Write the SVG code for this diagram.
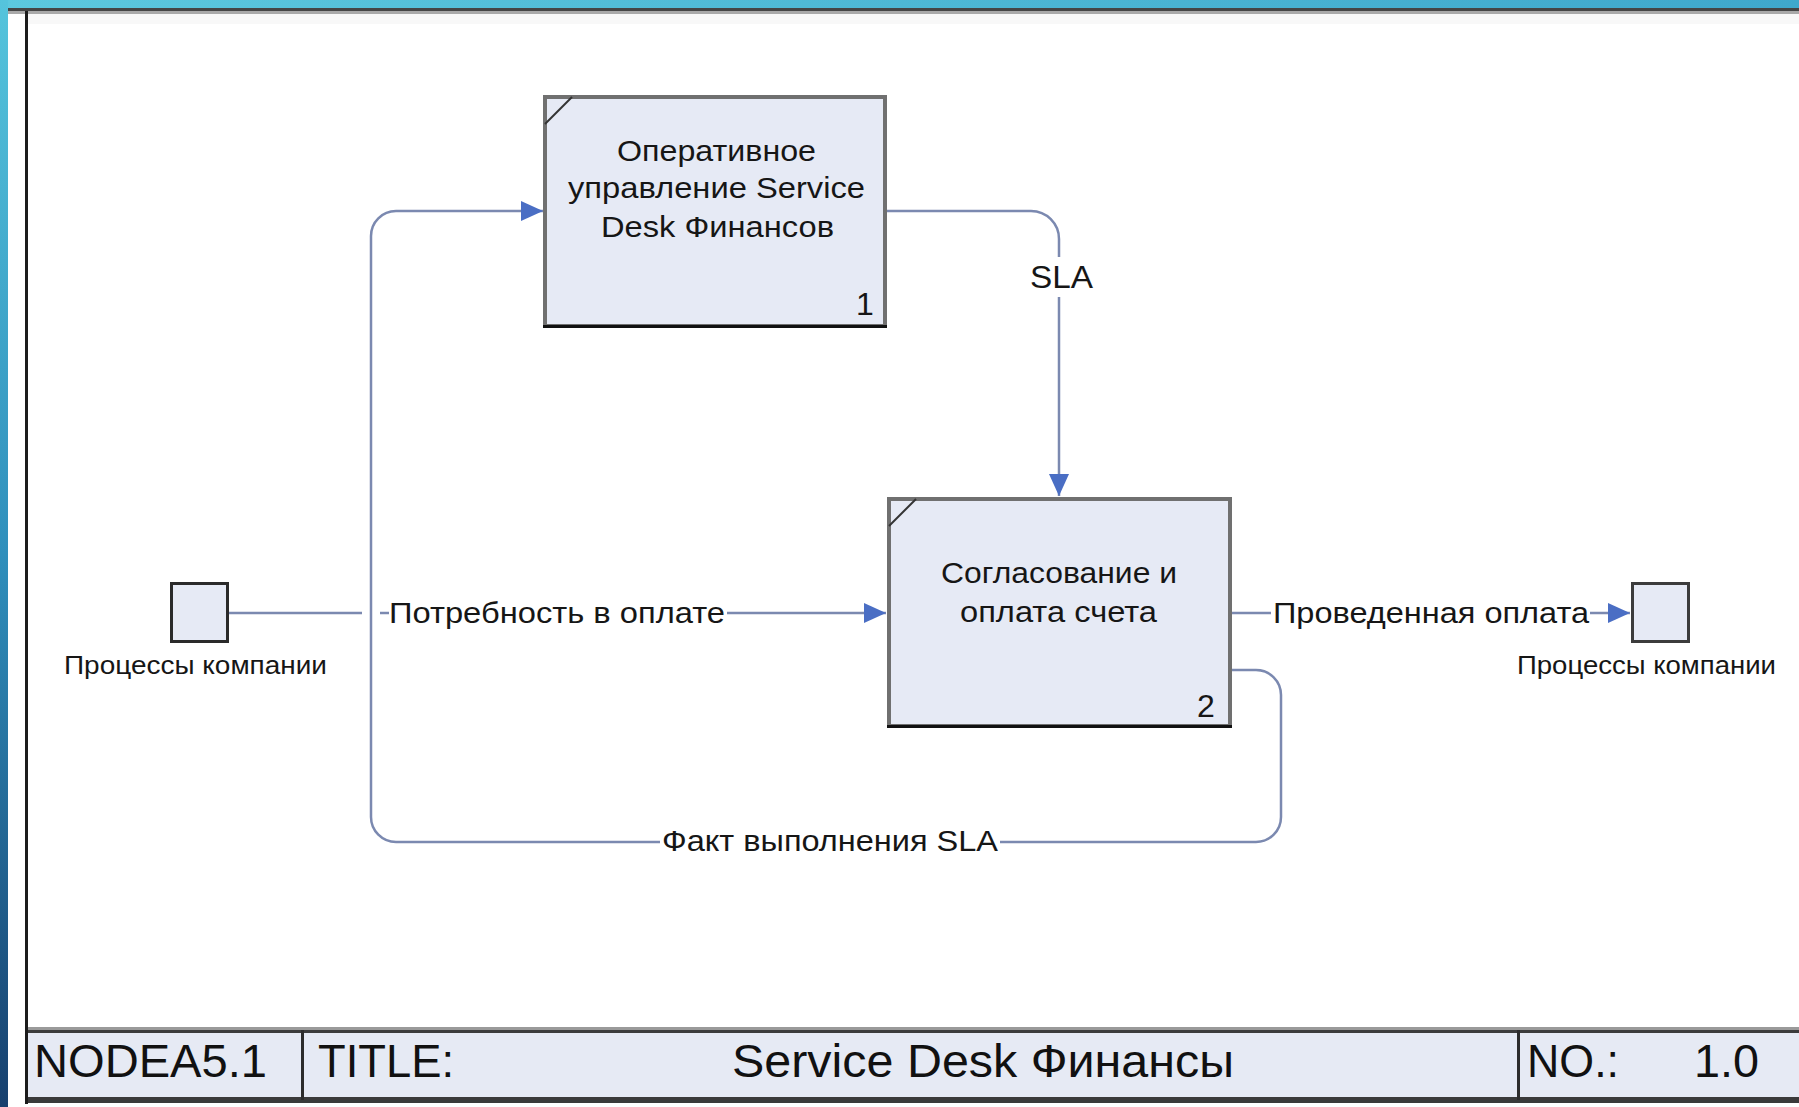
<svg xmlns="http://www.w3.org/2000/svg" width="1799" height="1107" viewBox="0 0 1799 1107">
<defs>
<linearGradient id="gTop" x1="0" y1="0" x2="1" y2="0"><stop offset="0" stop-color="#5cc8de"/><stop offset="1" stop-color="#3fa8cc"/></linearGradient>
<linearGradient id="gLeft" x1="0" y1="0" x2="0" y2="1"><stop offset="0" stop-color="#55c4dc"/><stop offset="0.5" stop-color="#2f8fbc"/><stop offset="1" stop-color="#17406e"/></linearGradient>
<marker id="arr" viewBox="0 0 22 20" refX="22" refY="10" markerWidth="22" markerHeight="20" markerUnits="userSpaceOnUse" orient="auto"><path d="M0,0 L22,10 L0,20 Z" fill="#4a6ec4"/></marker>
<style>
.t{font-family:"Liberation Sans",Arial,sans-serif;fill:#161616}
.box{fill:#e6eaf5;stroke:#707070;stroke-width:4}
.bot{stroke:#111;stroke-width:3}
.diag{stroke:#333;stroke-width:2}
.ext{fill:#e6eaf5;stroke:#2a2a2a;stroke-width:3}
.c{fill:none;stroke:#7b89b0;stroke-width:2.5}
.nt{font-size:29px;text-anchor:middle}
.lt{font-size:29px}
.et{font-size:25px}
.tb{font-size:46px;fill:#111}
</style>
</defs>
<rect x="0" y="0" width="1799" height="1107" fill="#ffffff"/>
<rect x="0" y="0" width="1799" height="8" fill="url(#gTop)"/>
<rect x="0" y="0" width="8" height="1107" fill="url(#gLeft)"/>
<rect x="8" y="8" width="1791" height="3" fill="#454545"/>
<rect x="8" y="11" width="1791" height="3" fill="#a9a9a9"/>
<rect x="28" y="14" width="1771" height="10" fill="#f8f8f8"/>
<rect x="25" y="11" width="3" height="1093" fill="#1c1c1c"/>

<g id="title-block">
<rect x="28" y="1030" width="1771" height="68" fill="#e6eaf4"/>
<rect x="28" y="1027" width="1771" height="3" fill="#9a9a9a"/>
<rect x="28" y="1030" width="1771" height="3" fill="#3c3c3c"/>
<rect x="28" y="1097" width="1771" height="6" fill="#3a3a3a"/>
<rect x="301" y="1030" width="3" height="70" fill="#2c2c2c"/>
<rect x="1517" y="1030" width="3" height="70" fill="#2c2c2c"/>
<text class="t tb" x="34" y="1077" textLength="233" lengthAdjust="spacingAndGlyphs">NODEA5.1</text>
<text class="t tb" x="318" y="1077" textLength="136" lengthAdjust="spacingAndGlyphs">TITLE:</text>
<text class="t tb" x="732" y="1077" textLength="502" lengthAdjust="spacingAndGlyphs">Service Desk Финансы</text>
<text class="t tb" x="1527" y="1077" textLength="92" lengthAdjust="spacingAndGlyphs">NO.:</text>
<text class="t tb" x="1694" y="1077" textLength="65" lengthAdjust="spacingAndGlyphs">1.0</text>
</g>

<g id="connectors">
<path class="c" d="M229,613 H362"/>
<path class="c" d="M380,613 H389"/>
<path class="c" d="M727,613 H886" marker-end="url(#arr)"/>
<path class="c" d="M1232,613 H1271"/>
<path class="c" d="M1590,613 H1630" marker-end="url(#arr)"/>
<path class="c" d="M887,211 H1031 A28,28 0 0 1 1059,239 V257"/>
<path class="c" d="M1059,297 V496" marker-end="url(#arr)"/>
<path class="c" d="M1232,670 H1256 A25,25 0 0 1 1281,695 V817 A25,25 0 0 1 1256,842 H1000"/>
<path class="c" d="M660,842 H396 A25,25 0 0 1 371,817 V236 A25,25 0 0 1 396,211 H543" marker-end="url(#arr)"/>
<text class="t lt" x="389" y="623" textLength="336" lengthAdjust="spacingAndGlyphs">Потребность в оплате</text>
<text class="t lt" x="1273" y="623" textLength="316" lengthAdjust="spacingAndGlyphs">Проведенная оплата</text>
<text class="t lt" x="662" y="851" textLength="336" lengthAdjust="spacingAndGlyphs">Факт выполнения SLA</text>
<text class="t" x="1030" y="288" font-size="32" textLength="63" lengthAdjust="spacingAndGlyphs">SLA</text>
</g>

<g id="node-1">
<rect class="box" x="545" y="97" width="340" height="229"/>
<line class="bot" x1="543" y1="326.5" x2="887" y2="326.5"/>
<line class="diag" x1="545" y1="124" x2="572" y2="97"/>
<text class="t nt" x="716.5" y="161" textLength="199" lengthAdjust="spacingAndGlyphs">Оперативное</text>
<text class="t nt" x="716.5" y="198" textLength="297" lengthAdjust="spacingAndGlyphs">управление Service</text>
<text class="t nt" x="717.5" y="237" textLength="233" lengthAdjust="spacingAndGlyphs">Desk Финансов</text>
<text class="t" x="856" y="315" font-size="32">1</text>
</g>

<g id="node-2">
<rect class="box" x="889" y="499" width="341" height="227"/>
<line class="bot" x1="887" y1="726.5" x2="1232" y2="726.5"/>
<line class="diag" x1="889" y1="526" x2="916" y2="499"/>
<text class="t nt" x="1059" y="583" textLength="236" lengthAdjust="spacingAndGlyphs">Согласование и</text>
<text class="t nt" x="1058.5" y="622" textLength="197" lengthAdjust="spacingAndGlyphs">оплата счета</text>
<text class="t" x="1197" y="717" font-size="32">2</text>
</g>

<g id="ext-left">
<rect class="ext" x="171.5" y="583.5" width="56" height="58"/>
<text class="t et" x="64" y="674" textLength="263" lengthAdjust="spacingAndGlyphs">Процессы компании</text>
</g>

<g id="ext-right">
<rect class="ext" x="1632.5" y="583.5" width="56" height="58" style="stroke:#3c3c3c"/>
<text class="t et" x="1517" y="674" textLength="259" lengthAdjust="spacingAndGlyphs">Процессы компании</text>
</g>
</svg>
